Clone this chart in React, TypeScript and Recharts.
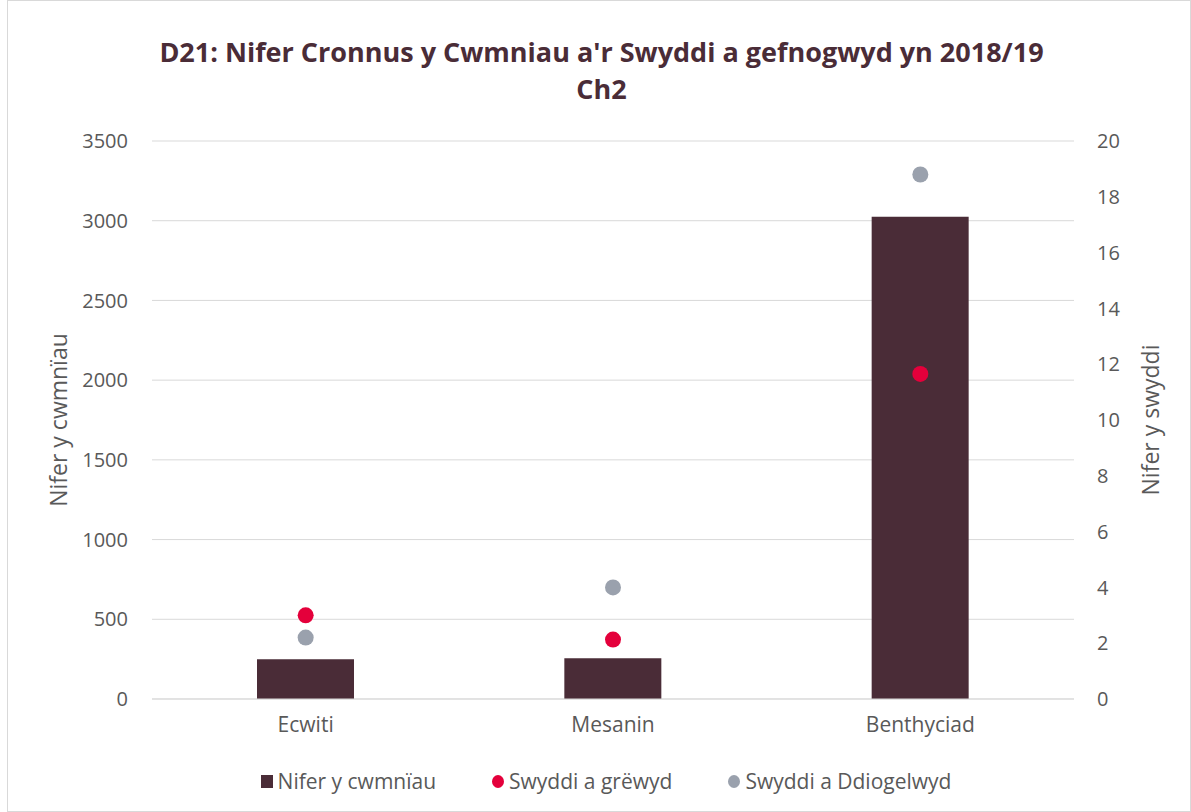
import { ComposedChart, Bar, Scatter, XAxis, YAxis, CartesianGrid } from "recharts";

const categories = ["Ecwiti", "Mesanin", "Benthyciad"];
const companies = [250, 255, 3025];
const jobsCreated = [3.0, 2.13, 11.65];
const jobsSafeguarded = [2.2, 4.0, 18.8];
const leftTicks = [0, 500, 1000, 1500, 2000, 2500, 3000, 3500];
const rightTicks = [0, 2, 4, 6, 8, 10, 12, 14, 16, 18, 20];

const seriesNames = ["Nifer y cwmnïau", "Swyddi a grëwyd", "Swyddi a Ddiogelwyd"];
const COLORS = ["#4a2c37", "#e4003b", "#9aa1ad"];
const FONT = "'Open Sans', sans-serif";
const TEXT = "#595959";

const data = categories.map((c, i) => ({
    name: c,
    companies: companies[i],
    created: jobsCreated[i],
    safeguarded: jobsSafeguarded[i],
}));

const dot = (color: string) => (props: any) => <circle cx={props.cx} cy={props.cy} r={8} fill={color} />;

export default function App() {
    const tick = { fill: TEXT, fontSize: 20, fontFamily: FONT };
    return (
        <div style={{ position: "absolute", left: 0, top: 0, width: 1191, height: 812, background: "#fff", fontFamily: FONT }}>
            <div style={{ position: "absolute", left: 7, top: 0, width: 1184, height: 812, border: "1px solid #d9d9d9", boxSizing: "border-box" }} />
            {/* title */}
            <div style={{ position: "absolute", left: 0, top: 33, width: 1203, textAlign: "center", color: "#4a2c37", fontWeight: 700, fontSize: 27, lineHeight: "37px" }}>
                D21: Nifer Cronnus y Cwmniau a'r Swyddi a gefnogwyd yn 2018/19
                <br />
                Ch2
            </div>
            <ComposedChart width={1191} height={812} data={data} margin={{ top: 141, right: 37, bottom: 53, left: 72 }} style={{ position: "absolute", left: 0, top: 0 }}>
                <CartesianGrid yAxisId="left" vertical={false} stroke="#d9d9d9" />
                <XAxis dataKey="name" tick={{ ...tick, fontSize: 21 }} tickLine={false} tickSize={0} tickMargin={18} axisLine={{ stroke: "#d9d9d9" }} height={60} />
                <YAxis yAxisId="left" domain={[0, 3500]} ticks={leftTicks} tick={tick} tickLine={false} tickSize={0} tickMargin={24} axisLine={false} width={80} />
                <YAxis yAxisId="right" orientation="right" domain={[0, 20]} ticks={rightTicks} tick={tick} tickLine={false} tickSize={0} tickMargin={23} axisLine={false} width={80} />
                <Bar yAxisId="left" dataKey="companies" fill={COLORS[0]} barSize={97} isAnimationActive={false} />
                <Scatter yAxisId="right" dataKey="created" fill={COLORS[1]} shape={dot(COLORS[1])} isAnimationActive={false} />
                <Scatter yAxisId="right" dataKey="safeguarded" fill={COLORS[2]} shape={dot(COLORS[2])} isAnimationActive={false} />
            </ComposedChart>
            <svg width={1191} height={812} style={{ position: "absolute", left: 0, top: 0, pointerEvents: "none" }}>
                <text x={58} y={420} transform="rotate(-90 58 420)" textAnchor="middle" dominantBaseline="central" fill={TEXT} fontSize={23} fontFamily={FONT}>
                    Nifer y cwmnïau
                </text>
                <text x={1150} y={420} transform="rotate(-90 1150 420)" textAnchor="middle" dominantBaseline="central" fill={TEXT} fontSize={23} fontFamily={FONT}>
                    Nifer y swyddi
                </text>
            </svg>
            {/* legend */}
            <div style={{ position: "absolute", left: 0, top: 767, width: 1212, display: "flex", justifyContent: "center", alignItems: "center", color: TEXT, fontSize: 21 }}>
                {seriesNames.map((n, i) => (
                    <div key={n} style={{ display: "flex", alignItems: "center", marginRight: i < 2 ? 56 : 0 }}>
                        <span style={{ width: 12, height: 13, background: COLORS[i], borderRadius: i === 0 ? 0 : "50%", marginRight: 5, display: "inline-block" }} />
                        <span>{n}</span>
                    </div>
                ))}
            </div>
        </div>
    );
}
